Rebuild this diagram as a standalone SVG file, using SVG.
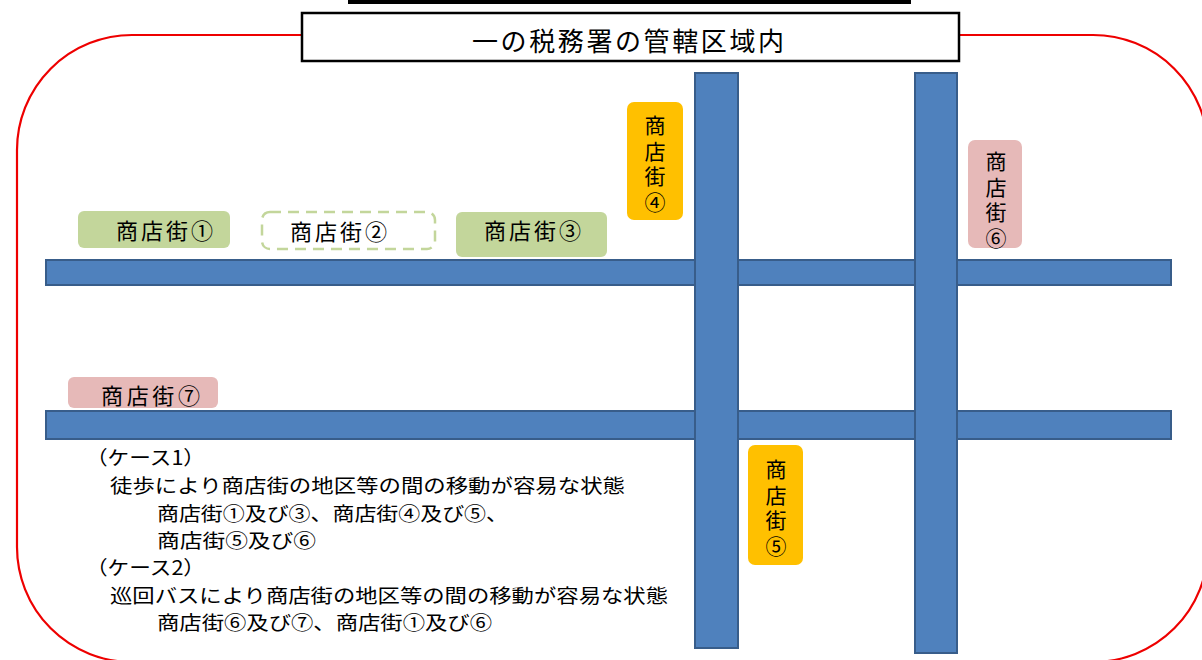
<svg xmlns="http://www.w3.org/2000/svg" width="1202" height="660" viewBox="0 0 1202 660">
<style>
text{font-family:"Noto Sans CJK JP","Noto Sans CJK SC",sans-serif;fill:#000}
.road{fill:#4f81bd;stroke:#385d8a;stroke-width:2}
.green{fill:#c3d69b}
.pink{fill:#e6b9b8}
.orange{fill:#ffc000}
.lbl{font-size:22px;dominant-baseline:central}
.vl{font-size:21px;writing-mode:vertical-rl;letter-spacing:4.5px}
.note{font-size:19.5px;dominant-baseline:central}
</style>
<rect width="1202" height="660" fill="#fff"/>
<line x1="348" y1="2" x2="911" y2="2" stroke="#000" stroke-width="4"/>
<rect id="area" x="17" y="35" width="1191" height="627" rx="115" ry="115" fill="none" stroke="#ee0000" stroke-width="2.2"/>
<g id="title">
<rect x="302" y="13" width="657" height="48" fill="#fff" stroke="#000" stroke-width="2.5"/>
<text x="472" y="39" font-size="26" dominant-baseline="central" textLength="312">一の税務署の管轄区域内</text>
</g>
<g id="roads">
<rect class="road" x="46" y="260" width="1125" height="25"/>
<rect class="road" x="46" y="411" width="1125" height="28"/>
<rect class="road" x="695" y="73" width="43" height="575"/>
<rect class="road" x="915" y="73" width="42" height="580"/>
</g>
<g id="s1"><rect class="green" x="78" y="211" width="152" height="37" rx="6"/><text class="lbl" x="116" y="229" textLength="97">商店街①</text></g>
<g id="s2"><rect x="262" y="212" width="173" height="37" rx="8" fill="#fff" stroke="#c3d69b" stroke-width="2.5" stroke-dasharray="11 7"/><text class="lbl" x="290" y="230" textLength="97">商店街②</text></g>
<g id="s3"><rect class="green" x="456" y="212" width="151" height="45" rx="6"/><text class="lbl" x="484" y="229" textLength="97">商店街③</text></g>
<g id="s4"><rect class="orange" x="627" y="102" width="56" height="118" rx="7"/>
<text class="vl" x="655" y="115">商店街④</text></g>
<g id="s5"><rect class="orange" x="748" y="445" width="55" height="120" rx="7"/>
<text class="vl" x="776" y="459">商店街⑤</text></g>
<g id="s6"><rect class="pink" x="968" y="140" width="54" height="108" rx="7"/>
<text class="vl" x="996" y="151">商店街⑥</text></g>
<g id="s7"><rect class="pink" x="68" y="377" width="150" height="31" rx="6"/><text class="lbl" x="101" y="394" textLength="99">商店街⑦</text></g>
<g id="notes">
<text class="note" x="86" y="456" textLength="119" lengthAdjust="spacingAndGlyphs">（ケース1）</text>
<text class="note" x="110" y="484" textLength="515" lengthAdjust="spacingAndGlyphs">徒歩により商店街の地区等の間の移動が容易な状態</text>
<text class="note" x="157" y="512" textLength="351" lengthAdjust="spacingAndGlyphs">商店街①及び③、商店街④及び⑤、</text>
<text class="note" x="157" y="539" textLength="159" lengthAdjust="spacingAndGlyphs">商店街⑤及び⑥</text>
<text class="note" x="86" y="566" textLength="119" lengthAdjust="spacingAndGlyphs">（ケース2）</text>
<text class="note" x="110" y="594" textLength="558" lengthAdjust="spacingAndGlyphs">巡回バスにより商店街の地区等の間の移動が容易な状態</text>
<text class="note" x="157" y="621" textLength="335" lengthAdjust="spacingAndGlyphs">商店街⑥及び⑦、商店街①及び⑥</text>
</g>
</svg>
